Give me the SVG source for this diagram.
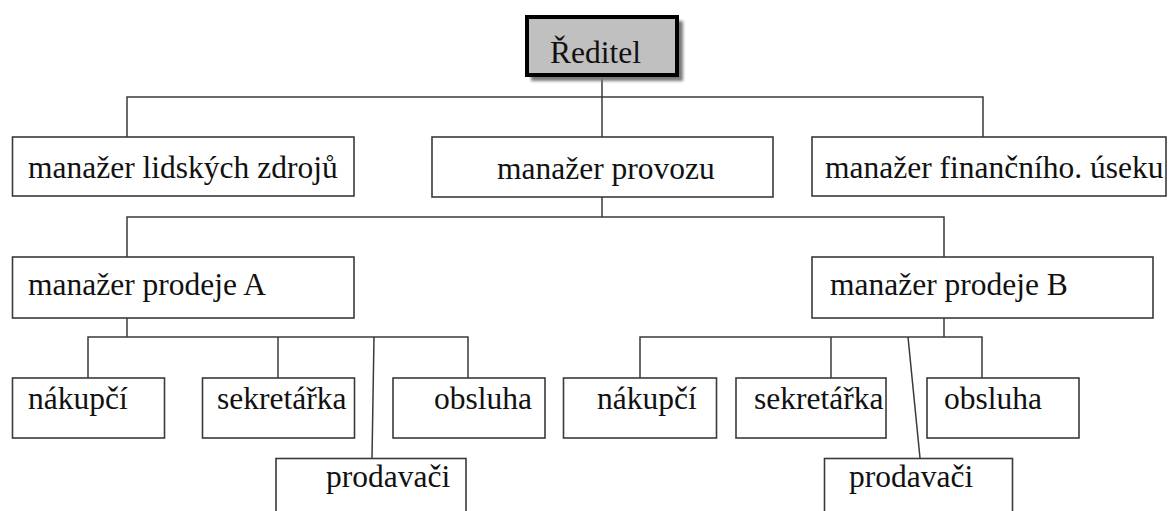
<svg xmlns="http://www.w3.org/2000/svg" width="1168" height="511" viewBox="0 0 1168 511">
  <style>
    .box { fill: #ffffff; stroke: #3a3a3a; stroke-width: 1.6; }
    .lbl { font-size: 31.5px; fill: #111111; }
    .wire { fill: none; stroke: #3a3a3a; stroke-width: 1.5; }
  </style>
  <defs>
    <filter id="soft" x="-10%" y="-10%" width="130%" height="140%">
      <feGaussianBlur stdDeviation="1.5"/>
    </filter>
  </defs>
  <rect width="1168" height="511" fill="#ffffff"/>

  <!-- connectors -->
  <g id="connectors" class="wire">
    <!-- director to first level -->
    <polyline points="602,77 602,97"/>
    <polyline points="127,137 127,97 983,97 983,137"/>
    <polyline points="602,97 602,137"/>
    <!-- operations manager to sales managers -->
    <polyline points="602,197 602,217"/>
    <polyline points="127,257 127,217 944,217 944,257"/>
    <!-- sales manager A to staff -->
    <polyline points="127,318 127,337"/>
    <polyline points="88,378 88,337 468,337 468,378"/>
    <polyline points="278,337 278,378"/>
    <polyline points="374,337 372,458"/>
    <!-- sales manager B to staff -->
    <polyline points="944,318 944,337"/>
    <polyline points="640,378 640,337 982,337 982,378"/>
    <polyline points="831,337 831,378"/>
    <polyline points="908,337 920,458"/>
  </g>

  <g font-family="'Liberation Serif', Tinos, 'DejaVu Serif', serif">
  <!-- director -->
  <g id="reditel">
    <rect x="531" y="21" width="152" height="60" fill="#7a7a7a" filter="url(#soft)"/>
    <rect x="527" y="17" width="150" height="58" fill="#c0c0c0" stroke="#000000" stroke-width="4"/>
    <text class="lbl" x="550" y="63">Ředitel</text>
  </g>

  <!-- first level -->
  <g id="manazer-lidskych-zdroju">
    <rect class="box" x="12.5" y="137" width="341.5" height="59"/>
    <text class="lbl" x="28" y="178">manažer lidských zdrojů</text>
  </g>
  <g id="manazer-provozu">
    <rect class="box" x="432" y="137" width="341" height="60"/>
    <text class="lbl" x="497" y="179">manažer provozu</text>
  </g>
  <g id="manazer-financniho-useku">
    <rect class="box" x="812" y="137" width="354" height="59"/>
    <text class="lbl" x="825" y="178">manažer finančního. úseku</text>
  </g>

  <!-- second level -->
  <g id="manazer-prodeje-a">
    <rect class="box" x="12.5" y="257" width="341.5" height="61"/>
    <text class="lbl" x="28" y="295">manažer prodeje A</text>
  </g>
  <g id="manazer-prodeje-b">
    <rect class="box" x="812" y="257" width="341" height="61"/>
    <text class="lbl" x="830" y="295">manažer prodeje B</text>
  </g>

  <!-- staff under A -->
  <g id="nakupci-a">
    <rect class="box" x="12.5" y="378" width="152" height="60"/>
    <text class="lbl" x="28" y="409">nákupčí</text>
  </g>
  <g id="sekretarka-a">
    <rect class="box" x="202.5" y="378" width="152" height="60"/>
    <text class="lbl" x="217" y="409">sekretářka</text>
  </g>
  <g id="obsluha-a">
    <rect class="box" x="393" y="378" width="152" height="60"/>
    <text class="lbl" x="434" y="409">obsluha</text>
  </g>
  <g id="prodavaci-a">
    <rect class="box" x="276" y="458.5" width="190" height="60"/>
    <text class="lbl" x="326" y="487">prodavači</text>
  </g>

  <!-- staff under B -->
  <g id="nakupci-b">
    <rect class="box" x="563.5" y="378" width="153" height="60"/>
    <text class="lbl" x="597" y="409">nákupčí</text>
  </g>
  <g id="sekretarka-b">
    <rect class="box" x="736" y="378" width="150" height="60"/>
    <text class="lbl" x="754" y="409">sekretářka</text>
  </g>
  <g id="obsluha-b">
    <rect class="box" x="927" y="378" width="152" height="60"/>
    <text class="lbl" x="944" y="409">obsluha</text>
  </g>
  <g id="prodavaci-b">
    <rect class="box" x="824.5" y="458.5" width="188" height="60"/>
    <text class="lbl" x="849" y="487">prodavači</text>
  </g>
  </g>
</svg>
